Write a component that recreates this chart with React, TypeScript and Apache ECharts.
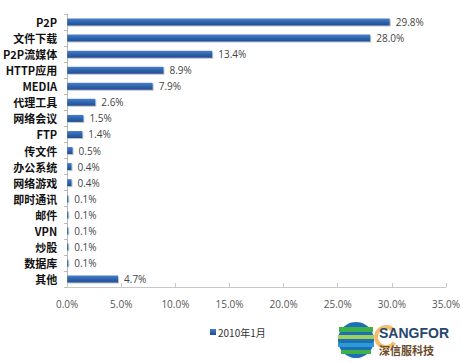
import React, { useEffect, useRef } from "react";
import * as echarts from "echarts";

const categories = ["P2P", "文件下载", "P2P流媒体", "HTTP应用", "MEDIA", "代理工具", "网络会议", "FTP", "传文件", "办公系统", "网络游戏", "即时通讯", "邮件", "VPN", "炒股", "数据库", "其他"];
const values = [29.8, 28.0, 13.4, 8.9, 7.9, 2.6, 1.5, 1.4, 0.5, 0.4, 0.4, 0.1, 0.1, 0.1, 0.1, 0.1, 4.7];
const seriesName = "2010年1月";

export default function App() {
  const ref = useRef<HTMLDivElement>(null);
  useEffect(() => {
    const chart = echarts.init(ref.current!, null, { renderer: "svg" });
    chart.setOption({
      animation: false,
      backgroundColor: "#ffffff",
      grid: { left: 67, right: 16, top: 14, bottom: 75 },
      legend: {
        data: [seriesName],
        bottom: 20,
        left: 205,
        itemWidth: 6,
        itemHeight: 6,
        itemGap: 2,
        icon: "rect",
        textStyle: { fontSize: 10, color: "#333", fontFamily: "Noto Sans CJK SC", padding: [0, 0, 0, -3] },
      },
      xAxis: {
        type: "value",
        min: 0,
        max: 35,
        interval: 5,
        axisLine: { show: true, lineStyle: { color: "#c8c8c8" } },
        axisTick: { show: true, inside: true, length: 4, lineStyle: { color: "#c8c8c8" } },
        splitLine: { show: false },
        axisLabel: { formatter: (v: number) => v.toFixed(1) + "%", fontSize: 10, color: "#555", margin: 12, fontFamily: "Open Sans" },
      },
      yAxis: {
        type: "category",
        data: categories,
        inverse: true,
        axisLine: { show: true, lineStyle: { color: "#b8b8b8" } },
        axisTick: { show: true, length: 3, lineStyle: { color: "#b8b8b8" } },
        axisLabel: { fontSize: 11, color: "#111", fontWeight: "bold", fontFamily: "Noto Sans CJK SC", margin: 10 },
      },
      series: [
        {
          name: seriesName,
          type: "bar",
          data: values,
          barWidth: 7,
          itemStyle: {
            color: new echarts.graphic.LinearGradient(0, 0, 0, 1, [
              { offset: 0, color: "#4a80c8" },
              { offset: 0.5, color: "#2f63ae" },
              { offset: 1, color: "#1f4f94" },
            ]),
            shadowColor: "rgba(0,0,0,0.25)",
            shadowOffsetY: 1,
            shadowOffsetX: 1,
          },
          label: {
            show: true,
            position: "right",
            distance: 6,
            formatter: (p: any) => p.value.toFixed(1) + "%",
            fontSize: 10,
            color: "#444",
            fontFamily: "Open Sans",
          },
        },
      ],
      graphic: [
        { type: "circle", shape: { cx: 356, cy: 340, r: 18 }, style: { fill: "#1f6fb5" } },
        { type: "rect", shape: { x: 339, y: 327, width: 34, height: 5 }, style: { fill: "#3cb14a" } },
        { type: "rect", shape: { x: 338, y: 335, width: 36, height: 4 }, style: { fill: "#9fd15a" } },
        { type: "rect", shape: { x: 338, y: 343, width: 36, height: 4 }, style: { fill: "#2a9bd6" } },
        { type: "rect", shape: { x: 341, y: 350, width: 30, height: 4 }, style: { fill: "#3cb14a" } },
        { type: "arc", shape: { cx: 386, cy: 337, r: 10, startAngle: 0.6, endAngle: 5.7 }, style: { stroke: "#f0a030", lineWidth: 4, fill: "none", opacity: 0.7 } },
        { type: "text", x: 379, y: 326, style: { text: "SANGFOR", fontSize: 14, fontWeight: "bold", fill: "#27466f", fontFamily: "Liberation Sans" } },
        { type: "text", x: 379, y: 344, style: { text: "深信服科技", fontSize: 11, fontWeight: "bold", fill: "#6b4a2a", fontFamily: "Noto Sans CJK SC" } },
      ],
    });
    return () => chart.dispose();
  }, []);
  return <div ref={ref} style={{ width: 463, height: 362, position: "absolute", left: 0, top: 0 }} />;
}
